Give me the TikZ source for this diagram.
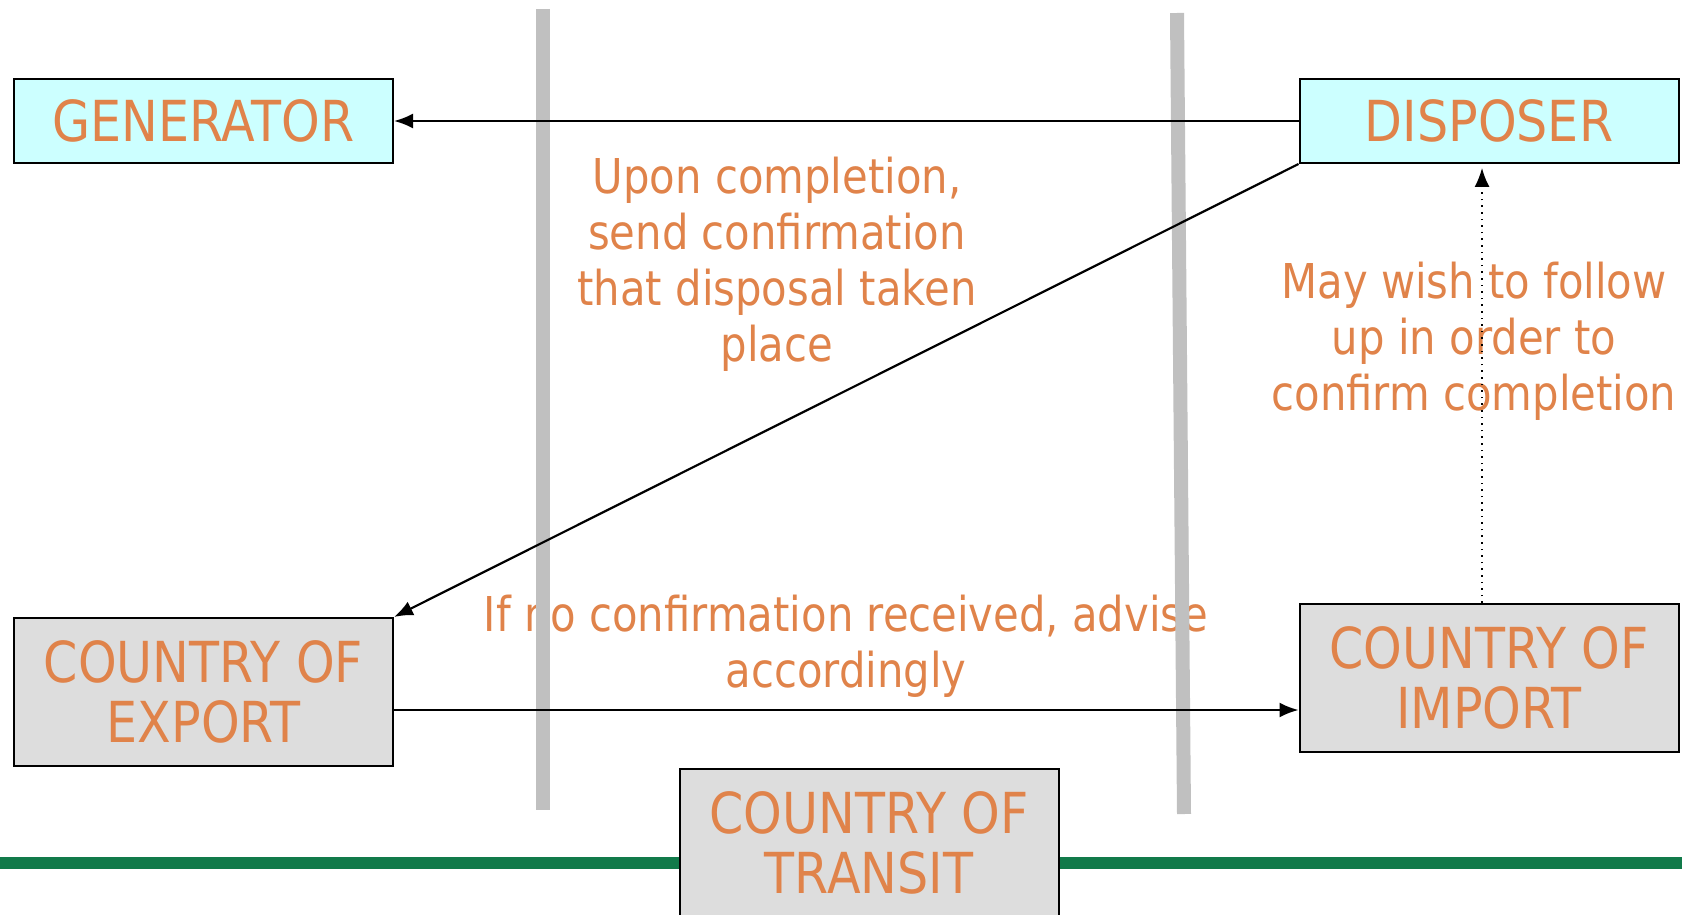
\documentclass[tikz,border=0pt]{standalone}
\usepackage{fontspec}
\setmainfont{DejaVu Sans}[FakeStretch=0.87]
\usepackage{tikz}
\usetikzlibrary{arrows.meta}
\definecolor{labelorange}{RGB}{224,131,74}
\definecolor{partycyan}{RGB}{204,255,255}
\definecolor{countrygrey}{RGB}{221,221,221}
\definecolor{bordergrey}{RGB}{192,192,192}
\definecolor{groundgreen}{RGB}{17,122,74}
\tikzstyle{party} = [rectangle, draw, line width=2pt, fill=partycyan,
    minimum width=379pt, minimum height=84pt, inner sep=0pt,
    text=labelorange, font=\fontsize{56.5}{60}\selectfont]
\tikzstyle{country} = [party, fill=countrygrey, minimum height=148pt, align=center]
\tikzstyle{note} = [text=labelorange, align=center, inner sep=0pt, anchor=north,
    font=\fontsize{48}{56}\selectfont]
\tikzstyle{line} = [draw, line width=2.2pt, -{Latex[length=19pt,width=15pt]}]
\tikzstyle{follow} = [line, line width=1.6pt, dash pattern=on 1.6pt off 5pt]
\tikzstyle{border} = [draw=bordergrey, line width=14pt]

\begin{document}
\begin{tikzpicture}[x=1pt, y=1pt]
   \useasboundingbox (0,0) rectangle (1682,-915);
   \draw [groundgreen, line width=12pt] (0,-863) -- (1682,-863);

   \node [party] (gen) at (203.5,-121) {GENERATOR};
   \node [party, right of=gen, node distance=1285.5pt] (disp) {DISPOSER};
   \node [country, below of=gen, node distance=571pt] (exp) {COUNTRY OF\\EXPORT};
   \node [country, below of=disp, node distance=557pt] (imp) {COUNTRY OF\\IMPORT};
   \node [country] (trans) at (869,-843) {COUNTRY OF\\TRANSIT};

   \node [note] (upon) at (777,-156.5)
      {Upon completion,\\send confirmation\\that disposal taken\\place};
   \node [note] (may) at (1474,-261.5)
      {May wish to follow\\up in order to\\confirm completion};
   \node [note] (noconf) at (846,-595)
      {If no confirmation received, advise\\accordingly};

   \draw [border] (543,-9) -- (543,-810);
   \draw [border] (1177,-13) -- (1184,-814);

   \path [line] (disp) -- (gen);
   \path [line] (disp.south west) -- (exp.north east);
   \path [line] ([yshift=-18pt]exp.east) -- ([yshift=-18pt]exp.east -| imp.west);
   \path [follow] ([xshift=-7pt]imp.north) -- ([xshift=-7pt,yshift=-4pt]disp.south);
\end{tikzpicture}
\end{document}
